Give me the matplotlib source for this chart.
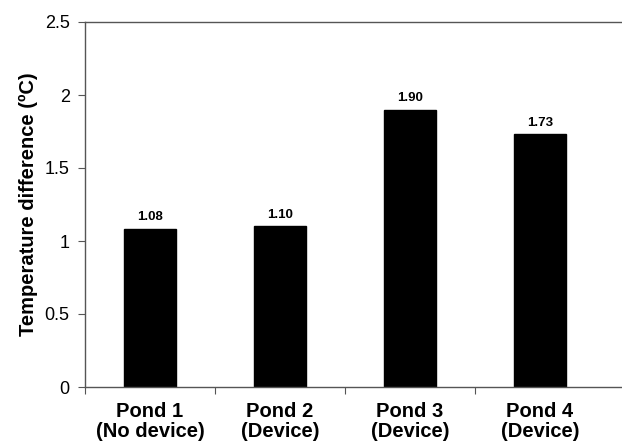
import matplotlib
matplotlib.use('Agg')
import matplotlib.pyplot as plt
import numpy as np

plt.rcParams['font.family'] = ['Liberation Sans', 'DejaVu Sans']

# Data
ponds = ['Pond 1\n(No device)', 'Pond 2\n(Device)', 'Pond 3\n(Device)', 'Pond 4\n(Device)']
temp_diff = [1.08, 1.10, 1.90, 1.73]
yticks = [0, 0.5, 1, 1.5, 2, 2.5]
ytick_labels = ['0', '0.5', '1', '1.5', '2', '2.5']

fig = plt.figure(figsize=(6.22, 4.43), dpi=100)
ax = fig.add_axes([85 / 622, 1 - 387 / 443, 1 - 85 / 622 + 0.01, (387 - 22) / 443])

x = np.arange(len(ponds))
ax.bar(x, temp_diff, width=0.4, color='black', edgecolor='black')

for xi, v in zip(x, temp_diff):
    ax.text(xi, v + 0.04, f'{v:.2f}', ha='center', va='bottom', fontsize=9.5, fontweight='bold')

ax.set_xlim(-0.5, (622 - 85) / 130 - 0.5 + 0.05)
ax.set_ylim(0, 2.5)
ax.set_yticks(yticks)
ax.set_yticklabels(ytick_labels, fontsize=13)

# category boundaries ticks, labels centred under bars
ax.set_xticks([-0.5, 0.5, 1.5, 2.5])
ax.set_xticklabels([])
ax.set_xticks(x, minor=True)
ax.set_xticklabels(ponds, minor=True, fontsize=14.5, fontweight='bold', linespacing=1.05)
ax.tick_params(axis='x', which='minor', length=0, pad=11)
ax.tick_params(axis='x', which='major', direction='out', length=5, color='#555555')
ax.tick_params(axis='y', direction='out', length=5, color='#555555', pad=6)

for s in ['left', 'top', 'bottom']:
    ax.spines[s].set_color('#555555')
    ax.spines[s].set_linewidth(1.0)
ax.spines['right'].set_visible(False)

ax.set_ylabel('Temperature difference (ºC)', fontsize=14.5, fontweight='bold', labelpad=5)

fig.savefig('out.png', dpi=100)
